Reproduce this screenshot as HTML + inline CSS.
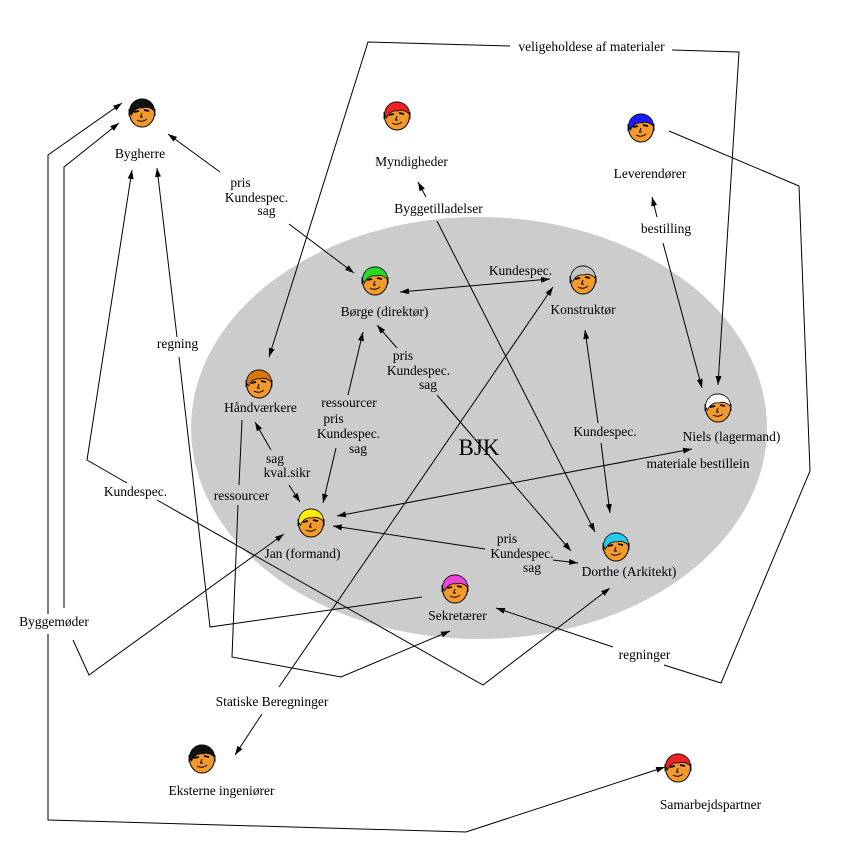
<!DOCTYPE html>
<html>
<head>
<meta charset="utf-8">
<style>
  html, body { margin: 0; padding: 0; background: #ffffff; }
  svg { display: block; }
  text { font-family: "Liberation Serif", "DejaVu Serif", serif; font-size: 13.5px; fill: #000; }
  .ln { fill: none; stroke: #000; stroke-width: 1; }
</style>
</head>
<body>
<svg width="851" height="851" viewBox="0 0 851 851" xmlns="http://www.w3.org/2000/svg">
  <defs>
    <marker id="a" viewBox="0 0 9 6" markerWidth="9" markerHeight="6" refX="9" refY="3" orient="auto" markerUnits="userSpaceOnUse">
      <path d="M0,0 L9,3 L0,6 z" fill="#000"/>
    </marker>
    <marker id="s" viewBox="0 0 9 6" markerWidth="9" markerHeight="6" refX="9" refY="3" orient="auto-start-reverse" markerUnits="userSpaceOnUse">
      <path d="M0,0 L9,3 L0,6 z" fill="#000"/>
    </marker>
  </defs>

  <rect x="0" y="0" width="851" height="851" fill="#fff"/>
  <ellipse cx="479" cy="428" rx="288" ry="211" fill="#cccccc"/>

  <!-- connectors -->
  <polyline class="ln" points="48,614 48,155 122,103" marker-end="url(#a)"/>
  <polyline class="ln" points="48,634 48,820 466,832 665,767" marker-end="url(#a)"/>
  <polyline class="ln" points="64,608 64,167 119,123" marker-end="url(#a)"/>
  <polyline class="ln" points="73,640 89,675 284,534" marker-end="url(#a)"/>
  <polyline class="ln" points="127,483 87,460 132,170" marker-end="url(#a)"/>
  <polyline class="ln" points="157,500 483,685 610,588" marker-end="url(#a)"/>
  <line class="ln" x1="177" y1="337" x2="157" y2="168" marker-end="url(#a)"/>
  <polyline class="ln" points="179,357 210,627 422,597"/>
  <line class="ln" x1="220" y1="172" x2="168" y2="134" marker-end="url(#a)"/>
  <line class="ln" x1="289" y1="224" x2="354" y2="273" marker-end="url(#a)"/>
  <polyline class="ln" points="510,46 368,42 269,357" marker-end="url(#a)"/>
  <polyline class="ln" points="672,50 739,52 718,385" marker-end="url(#a)"/>
  <line class="ln" x1="426" y1="197" x2="418" y2="182" marker-end="url(#a)"/>
  <line class="ln" x1="437" y1="221" x2="595" y2="532" marker-end="url(#a)"/>
  <line class="ln" x1="657" y1="217" x2="652" y2="197" marker-end="url(#a)"/>
  <line class="ln" x1="663" y1="243" x2="702" y2="388" marker-end="url(#a)"/>
  <polyline class="ln" points="669,131 799,186 810,471 721,683 664,665"/>
  <line class="ln" x1="613" y1="647" x2="496" y2="608" marker-end="url(#a)"/>
  <line class="ln" x1="550" y1="279" x2="400" y2="292" marker-start="url(#s)" marker-end="url(#a)"/>
  <line class="ln" x1="279" y1="687" x2="553" y2="287" marker-end="url(#a)"/>
  <line class="ln" x1="262" y1="714" x2="235" y2="755" marker-end="url(#a)"/>
  <line class="ln" x1="397" y1="348" x2="377" y2="325" marker-end="url(#a)"/>
  <line class="ln" x1="437" y1="395" x2="571" y2="551" marker-end="url(#a)"/>
  <line class="ln" x1="598" y1="423" x2="585" y2="330" marker-end="url(#a)"/>
  <line class="ln" x1="601" y1="443" x2="610" y2="513" marker-end="url(#a)"/>
  <line class="ln" x1="692" y1="449" x2="337" y2="516" marker-start="url(#s)" marker-end="url(#a)"/>
  <line class="ln" x1="485" y1="549" x2="333" y2="526" marker-end="url(#a)"/>
  <line class="ln" x1="553" y1="560" x2="578" y2="563" marker-end="url(#a)"/>
  <line class="ln" x1="348" y1="395" x2="363" y2="332" marker-end="url(#a)"/>
  <line class="ln" x1="336" y1="448" x2="323" y2="503" marker-end="url(#a)"/>
  <line class="ln" x1="271" y1="450" x2="255" y2="422" marker-end="url(#a)"/>
  <line class="ln" x1="289" y1="485" x2="300" y2="502" marker-end="url(#a)"/>
  <line class="ln" x1="242" y1="420" x2="239" y2="485"/>
  <polyline class="ln" points="238,505 232,657 341,677 450,631" marker-end="url(#a)"/>

  <!-- faces -->
  <g id="faces">
    <!-- Bygherre -->
    <g transform="translate(142,113)">
      <rect x="-13.5" y="-4" width="27" height="7" fill="#222"/>
      <ellipse rx="12.5" ry="14" fill="#f39a2b" stroke="#000"/>
      <path d="M -12.5,-1 C -12.5,-9 -7,-14 0,-14 C 7,-14 12.5,-9 12.5,-2 C 9,-5 5,-7 1,-5 C -3,-6 -8,-4 -10.5,2 Z" fill="#111" stroke="#000" stroke-width="0.8"/>
      <path d="M -8,-1 L -3,-2 M 2,-3 L 7,-2" stroke="#000" stroke-width="1.8"/>
      <path d="M 0,0 L -1.5,4 L 1,4 M -5,7 Q 0,10 5,6" fill="none" stroke="#000" stroke-width="1"/>
    </g>
    <!-- Myndigheder -->
    <g transform="translate(397,116)">
      <rect x="-13.5" y="-4" width="27" height="7" fill="#222"/>
      <ellipse rx="12.5" ry="14" fill="#f39a2b" stroke="#000"/>
      <path d="M -12.5,-1 C -12.5,-9 -7,-14 0,-14 C 7,-14 12.5,-9 12.5,-2 C 9,-5 5,-7 1,-5 C -3,-6 -8,-4 -10.5,2 Z" fill="#ee2222" stroke="#000" stroke-width="0.8"/>
      <path d="M -8,-1 L -3,-2 M 2,-3 L 7,-2" stroke="#000" stroke-width="1.8"/>
      <path d="M 0,0 L -1.5,4 L 1,4 M -5,7 Q 0,10 5,6" fill="none" stroke="#000" stroke-width="1"/>
    </g>
    <!-- Leverendører -->
    <g transform="translate(641,128)">
      <rect x="-13.5" y="-4" width="27" height="7" fill="#222"/>
      <ellipse rx="12.5" ry="14" fill="#f39a2b" stroke="#000"/>
      <path d="M -12.5,-1 C -12.5,-9 -7,-14 0,-14 C 7,-14 12.5,-9 12.5,-2 C 9,-5 5,-7 1,-5 C -3,-6 -8,-4 -10.5,2 Z" fill="#1a1aff" stroke="#000" stroke-width="0.8"/>
      <path d="M -8,-1 L -3,-2 M 2,-3 L 7,-2" stroke="#000" stroke-width="1.8"/>
      <path d="M 0,0 L -1.5,4 L 1,4 M -5,7 Q 0,10 5,6" fill="none" stroke="#000" stroke-width="1"/>
    </g>
    <!-- Børge -->
    <g transform="translate(375,281)">
      <rect x="-13.5" y="-4" width="27" height="7" fill="#222"/>
      <ellipse rx="12.5" ry="14" fill="#f39a2b" stroke="#000"/>
      <path d="M -12.5,-1 C -12.5,-9 -7,-14 0,-14 C 7,-14 12.5,-9 12.5,-2 C 9,-5 5,-7 1,-5 C -3,-6 -8,-4 -10.5,2 Z" fill="#22dd22" stroke="#000" stroke-width="0.8"/>
      <path d="M -8,-1 L -3,-2 M 2,-3 L 7,-2" stroke="#000" stroke-width="1.8"/>
      <path d="M 0,0 L -1.5,4 L 1,4 M -5,7 Q 0,10 5,6" fill="none" stroke="#000" stroke-width="1"/>
    </g>
    <!-- Konstruktør -->
    <g transform="translate(583,280)">
      <rect x="-13.5" y="-4" width="27" height="7" fill="#222"/>
      <ellipse rx="12.5" ry="14" fill="#f39a2b" stroke="#000"/>
      <path d="M -12.5,-1 C -12.5,-9 -7,-14 0,-14 C 7,-14 12.5,-9 12.5,-2 C 9,-5 5,-7 1,-5 C -3,-6 -8,-4 -10.5,2 Z" fill="#c4c4c4" stroke="#000" stroke-width="0.8"/>
      <path d="M -8,-1 L -3,-2 M 2,-3 L 7,-2" stroke="#000" stroke-width="1.8"/>
      <path d="M 0,0 L -1.5,4 L 1,4 M -5,7 Q 0,10 5,6" fill="none" stroke="#000" stroke-width="1"/>
    </g>
    <!-- Håndværkere -->
    <g transform="translate(259,384)">
      <rect x="-13.5" y="-4" width="27" height="7" fill="#222"/>
      <ellipse rx="12.5" ry="14" fill="#f39a2b" stroke="#000"/>
      <path d="M -12.5,-1 C -12.5,-9 -7,-14 0,-14 C 7,-14 12.5,-9 12.5,-2 C 9,-5 5,-7 1,-5 C -3,-6 -8,-4 -10.5,2 Z" fill="#d9780a" stroke="#000" stroke-width="0.8"/>
      <path d="M -8,-1 L -3,-2 M 2,-3 L 7,-2" stroke="#000" stroke-width="1.8"/>
      <path d="M 0,0 L -1.5,4 L 1,4 M -5,7 Q 0,10 5,6" fill="none" stroke="#000" stroke-width="1"/>
    </g>
    <!-- Niels -->
    <g transform="translate(718,408)">
      <rect x="-13.5" y="-4" width="27" height="7" fill="#222"/>
      <ellipse rx="12.5" ry="14" fill="#f39a2b" stroke="#000"/>
      <path d="M -12.5,-1 C -12.5,-9 -7,-14 0,-14 C 7,-14 12.5,-9 12.5,-2 C 9,-5 5,-7 1,-5 C -3,-6 -8,-4 -10.5,2 Z" fill="#ffffff" stroke="#000" stroke-width="0.8"/>
      <path d="M -8,-1 L -3,-2 M 2,-3 L 7,-2" stroke="#000" stroke-width="1.8"/>
      <path d="M 0,0 L -1.5,4 L 1,4 M -5,7 Q 0,10 5,6" fill="none" stroke="#000" stroke-width="1"/>
    </g>
    <!-- Jan -->
    <g transform="translate(311,523)">
      <rect x="-13.5" y="-4" width="27" height="7" fill="#222"/>
      <ellipse rx="12.5" ry="14" fill="#f39a2b" stroke="#000"/>
      <path d="M -12.5,-1 C -12.5,-9 -7,-14 0,-14 C 7,-14 12.5,-9 12.5,-2 C 9,-5 5,-7 1,-5 C -3,-6 -8,-4 -10.5,2 Z" fill="#ffee00" stroke="#000" stroke-width="0.8"/>
      <path d="M -8,-1 L -3,-2 M 2,-3 L 7,-2" stroke="#000" stroke-width="1.8"/>
      <path d="M 0,0 L -1.5,4 L 1,4 M -5,7 Q 0,10 5,6" fill="none" stroke="#000" stroke-width="1"/>
    </g>
    <!-- Dorthe -->
    <g transform="translate(616,547)">
      <rect x="-13.5" y="-4" width="27" height="7" fill="#222"/>
      <ellipse rx="12.5" ry="14" fill="#f39a2b" stroke="#000"/>
      <path d="M -12.5,-1 C -12.5,-9 -7,-14 0,-14 C 7,-14 12.5,-9 12.5,-2 C 9,-5 5,-7 1,-5 C -3,-6 -8,-4 -10.5,2 Z" fill="#22ccee" stroke="#000" stroke-width="0.8"/>
      <path d="M -8,-1 L -3,-2 M 2,-3 L 7,-2" stroke="#000" stroke-width="1.8"/>
      <path d="M 0,0 L -1.5,4 L 1,4 M -5,7 Q 0,10 5,6" fill="none" stroke="#000" stroke-width="1"/>
    </g>
    <!-- Sekretærer -->
    <g transform="translate(455,589)">
      <rect x="-13.5" y="-4" width="27" height="7" fill="#222"/>
      <ellipse rx="12.5" ry="14" fill="#f39a2b" stroke="#000"/>
      <path d="M -12.5,-1 C -12.5,-9 -7,-14 0,-14 C 7,-14 12.5,-9 12.5,-2 C 9,-5 5,-7 1,-5 C -3,-6 -8,-4 -10.5,2 Z" fill="#ee44dd" stroke="#000" stroke-width="0.8"/>
      <path d="M -8,-1 L -3,-2 M 2,-3 L 7,-2" stroke="#000" stroke-width="1.8"/>
      <path d="M 0,0 L -1.5,4 L 1,4 M -5,7 Q 0,10 5,6" fill="none" stroke="#000" stroke-width="1"/>
    </g>
    <!-- Eksterne ingeniører -->
    <g transform="translate(202,759)">
      <rect x="-13.5" y="-4" width="27" height="7" fill="#222"/>
      <ellipse rx="12.5" ry="14" fill="#f39a2b" stroke="#000"/>
      <path d="M -12.5,-1 C -12.5,-9 -7,-14 0,-14 C 7,-14 12.5,-9 12.5,-2 C 9,-5 5,-7 1,-5 C -3,-6 -8,-4 -10.5,2 Z" fill="#111" stroke="#000" stroke-width="0.8"/>
      <path d="M -8,-1 L -3,-2 M 2,-3 L 7,-2" stroke="#000" stroke-width="1.8"/>
      <path d="M 0,0 L -1.5,4 L 1,4 M -5,7 Q 0,10 5,6" fill="none" stroke="#000" stroke-width="1"/>
    </g>
    <!-- Samarbejdspartner -->
    <g transform="translate(678,768)">
      <rect x="-13.5" y="-4" width="27" height="7" fill="#222"/>
      <ellipse rx="12.5" ry="14" fill="#f39a2b" stroke="#000"/>
      <path d="M -12.5,-1 C -12.5,-9 -7,-14 0,-14 C 7,-14 12.5,-9 12.5,-2 C 9,-5 5,-7 1,-5 C -3,-6 -8,-4 -10.5,2 Z" fill="#ee2222" stroke="#000" stroke-width="0.8"/>
      <path d="M -8,-1 L -3,-2 M 2,-3 L 7,-2" stroke="#000" stroke-width="1.8"/>
      <path d="M 0,0 L -1.5,4 L 1,4 M -5,7 Q 0,10 5,6" fill="none" stroke="#000" stroke-width="1"/>
    </g>
  </g>

  <!-- labels -->
  <g text-anchor="middle">
    <text x="140" y="158">Bygherre</text>
    <text x="411.5" y="166">Myndigheder</text>
    <text x="650" y="178">Leverendører</text>
    <text x="438.5" y="213">Byggetilladelser</text>
    <text x="666" y="233">bestilling</text>
    <text x="591.5" y="51">veligeholdese af materialer</text>

    <text x="240.5" y="187">pris</text>
    <text x="256.5" y="202">Kundespec.</text>
    <text x="266.5" y="215">sag</text>

    <text x="520.5" y="275">Kundespec.</text>
    <text x="384.5" y="316">Børge (direktør)</text>
    <text x="583" y="314">Konstruktør</text>

    <text x="403" y="360">pris</text>
    <text x="418.5" y="375">Kundespec.</text>
    <text x="428" y="389">sag</text>

    <text x="260.5" y="412">Håndværkere</text>

    <text x="349" y="407">ressourcer</text>
    <text x="333.5" y="423">pris</text>
    <text x="348.5" y="438">Kundespec.</text>
    <text x="358" y="453">sag</text>

    <text x="479" y="455" style="font-size:23px">BJK</text>

    <text x="605" y="436">Kundespec.</text>
    <text x="731.5" y="441">Niels (lagermand)</text>
    <text x="698" y="468">materiale bestillein</text>

    <text x="275" y="463">sag</text>
    <text x="287" y="477">kval.sikr</text>

    <text x="241.5" y="500">ressourcer</text>
    <text x="135.5" y="496">Kundespec.</text>
    <text x="302.5" y="558">Jan (formand)</text>
    <text x="54" y="626">Byggemøder</text>

    <text x="507" y="543">pris</text>
    <text x="522" y="558">Kundespec.</text>
    <text x="532" y="572">sag</text>

    <text x="629" y="576">Dorthe (Arkitekt)</text>
    <text x="457.5" y="620">Sekretærer</text>
    <text x="644.5" y="659">regninger</text>
    <text x="177.5" y="348">regning</text>
    <text x="272" y="706">Statiske Beregninger</text>
    <text x="221.5" y="795">Eksterne ingeniører</text>
    <text x="710.5" y="809">Samarbejdspartner</text>
  </g>
</svg>
</body>
</html>
